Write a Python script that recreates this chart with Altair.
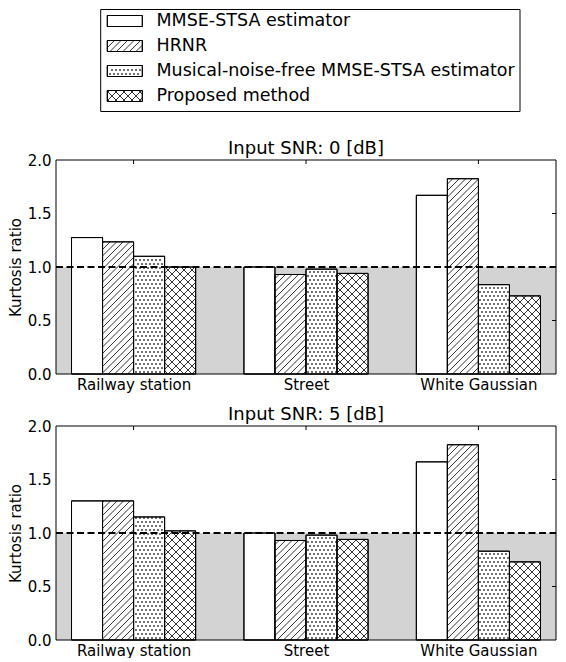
import numpy as np
import pandas as pd
import altair as alt

# ---------------- data ----------------
categories = ["Railway station", "Street", "White Gaussian"]
methods = ["MMSE-STSA estimator", "HRNR",
           "Musical-noise-free MMSE-STSA estimator", "Proposed method"]
hatch_kind = ["", "/", ".", "x"]

panel_titles = ["Input SNR: 0 [dB]", "Input SNR: 5 [dB]"]

snr0_mmse = [1.275, 1.00, 1.67]
snr0_hrnr = [1.235, 0.93, 1.825]
snr0_mnf = [1.10, 0.98, 0.835]
snr0_prop = [1.00, 0.94, 0.73]

snr5_mmse = [1.30, 1.00, 1.665]
snr5_hrnr = [1.30, 0.93, 1.825]
snr5_mnf = [1.15, 0.98, 0.83]
snr5_prop = [1.02, 0.94, 0.73]

y_ticks = [0.0, 0.5, 1.0, 1.5, 2.0]
reference_level = 1.0
y_title = "Kurtosis ratio"

panel_values = [
    [snr0_mmse, snr0_hrnr, snr0_mnf, snr0_prop],
    [snr5_mmse, snr5_hrnr, snr5_mnf, snr5_prop],
]

# ---------------- layout / style ----------------
FONT = "DejaVu Sans"
PW, PH = 500, 214
X_DOM = [-0.45, 2.45]
Y_DOM = [0.0, 2.0]
BAR_W = 0.18
SX = PW / (X_DOM[1] - X_DOM[0])
SY = PH / (Y_DOM[1] - Y_DOM[0])
HATCH_SP = {"/": 6.5, "x": 8.0, ".": 4.0}
TICK_LEN = 4.0

LW, LH = PW, 103


def hatch_segments(xl, xr, yb, yt, kind):
    segs = []
    if kind in ("/", "x"):
        s = HATCH_SP[kind]
        c = np.floor((xl - yt) / s) * s
        while c <= xr:
            a = max(xl, yb + c)
            b = min(xr, yt + c)
            if b > a:
                segs.append((a, a - c, b, b - c))
            c += s
    if kind == "x":
        s = HATCH_SP[kind]
        c = np.floor((xl + yb) / s) * s
        while c <= xr + yt:
            a = max(xl, c - yt)
            b = min(xr, c - yb)
            if b > a:
                segs.append((a, c - a, b, c - b))
            c += s
    return segs


def dot_points(xl, xr, yb, yt):
    s = HATCH_SP["."]
    pts = []
    j0 = int(np.floor(yb / s))
    j1 = int(np.ceil(yt / s))
    for j in range(j0, j1 + 1):
        y = j * s + s / 2
        if y <= yb + 1 or y >= yt - 1:
            continue
        off = 0.0 if j % 2 == 0 else s / 2
        k0 = int(np.floor(xl / s)) - 1
        k1 = int(np.ceil(xr / s)) + 1
        for k in range(k0, k1 + 1):
            x = k * s + off
            if xl + 1 < x < xr - 1:
                pts.append((x, y))
    return pts


def to_px_x(v):
    return (v - X_DOM[0]) * SX


def from_px_x(p):
    return p / SX + X_DOM[0]


xsc = alt.Scale(domain=X_DOM, nice=False, zero=False)
ysc = alt.Scale(domain=Y_DOM, nice=False, zero=False)
label_expr = "[" + ",".join("'" + c + "'" for c in categories) + "][datum.value]"

x_axis = alt.Axis(
    values=[0, 1, 2], labelExpr=label_expr, ticks=False, domain=False,
    grid=False, labelFontSize=15, labelFont=FONT, labelColor="black",
    labelPadding=3, title=None, labelFlush=False)
y_axis = alt.Axis(
    values=y_ticks, format=".1f", ticks=False, domain=False, grid=False,
    labelFontSize=15, labelFont=FONT, labelColor="black", labelPadding=5,
    title=y_title, titleFontSize=15, titleFont=FONT,
    titleFontWeight="normal", titleColor="black", titlePadding=4)


def X(field):
    return alt.X(field, scale=xsc, axis=x_axis)


def Y(field):
    return alt.Y(field, scale=ysc, axis=y_axis)


def make_panel(values, title):
    bars, segs, dots = [], [], []
    for m, series in enumerate(values):
        for ci, v in enumerate(series):
            x0 = ci + (m - 2) * BAR_W
            x1 = x0 + BAR_W
            bars.append({"method": methods[m], "cat": categories[ci],
                         "x0": x0, "x1": x1, "y0": 0.0, "value": v})
            xl, xr, yb, yt = to_px_x(x0), to_px_x(x1), 0.0, v * SY
            kind = hatch_kind[m]
            if kind in ("/", "x"):
                for (a, b, c, d) in hatch_segments(xl, xr, yb, yt, kind):
                    segs.append({"hx1": from_px_x(a), "hy1": b / SY,
                                 "hx2": from_px_x(c), "hy2": d / SY})
            elif kind == ".":
                for (a, b) in dot_points(xl, xr, yb, yt):
                    dots.append({"dx": from_px_x(a), "dy": b / SY})
    bars = pd.DataFrame(bars)
    segs = pd.DataFrame(segs)
    dots = pd.DataFrame(dots)

    gray = alt.Chart(pd.DataFrame({"a": [X_DOM[0]], "b": [X_DOM[1]],
                                   "c": [0.0], "d": [reference_level]})).mark_rect(
        fill="#d3d3d3", strokeWidth=0
    ).encode(x=X("a:Q"), x2="b:Q", y=Y("c:Q"), y2="d:Q")

    bar_layer = alt.Chart(bars).mark_rect(
        fill="white", stroke="black", strokeWidth=1
    ).encode(x=X("x0:Q"), x2="x1:Q", y=Y("y0:Q"), y2="value:Q")

    hatch_layer = alt.Chart(segs).mark_rule(color="black", strokeWidth=0.8).encode(
        x=X("hx1:Q"), x2="hx2:Q", y=Y("hy1:Q"), y2="hy2:Q")
    dot_layer = alt.Chart(dots).mark_square(color="black", size=2.2, opacity=1).encode(
        x=X("dx:Q"), y=Y("dy:Q"))
    outline = alt.Chart(bars).mark_rect(
        fillOpacity=0, stroke="black", strokeWidth=1
    ).encode(x=X("x0:Q"), x2="x1:Q", y=Y("y0:Q"), y2="value:Q")

    dashed = alt.Chart(pd.DataFrame({"a": [X_DOM[0]], "b": [X_DOM[1]],
                                     "c": [reference_level]})).mark_rule(
        color="black", strokeWidth=2, strokeDash=[7, 3.5]
    ).encode(x=X("a:Q"), x2="b:Q", y=Y("c:Q"))

    top_ticks = alt.Chart(pd.DataFrame({"t": [0, 1, 2]})).transform_calculate(
        y1=str(Y_DOM[1]), y2=str(Y_DOM[1] - TICK_LEN / SY)
    ).mark_rule(color="black", strokeWidth=1).encode(
        x=X("t:Q"), y=Y("y1:Q"), y2="y2:Q")
    right_ticks = alt.Chart(pd.DataFrame({"t": y_ticks[1:-1]})).transform_calculate(
        x1=str(X_DOM[1]), x2=str(X_DOM[1] - TICK_LEN / SX)
    ).mark_rule(color="black", strokeWidth=1).encode(
        x=X("x1:Q"), x2="x2:Q", y=Y("t:Q"))

    frame = alt.Chart(pd.DataFrame({"a": [X_DOM[0]], "b": [X_DOM[1]],
                                    "c": [Y_DOM[0]], "d": [Y_DOM[1]]})).mark_rect(
        fillOpacity=0, stroke="black", strokeWidth=1
    ).encode(x=X("a:Q"), x2="b:Q", y=Y("c:Q"), y2="d:Q")

    return alt.layer(
        gray, bar_layer, hatch_layer, dot_layer, outline, dashed,
        top_ticks, right_ticks, frame
    ).properties(
        width=PW, height=PH,
        title=alt.TitleParams(title, fontSize=18, font=FONT, fontWeight="normal",
                              color="black", anchor="middle", offset=-5),
    )


# ---------------- legend (drawn in pixel units, origin = plot left edge) ----------------
BOX_L, BOX_R = 44.7, 464.0
SW_L, SW_R, SW_H = 51.3, 86.3, 11.0
TXT_X = 100.5
LEG_FONT = 17.5
ROW0, ROW_PITCH = 12.0, 25.0   # distance from top of box

lx = alt.Scale(domain=[0, LW], nice=False, zero=False)
ly = alt.Scale(domain=[0, LH], nice=False, zero=False)


def LX(field):
    return alt.X(field, scale=lx, axis=None)


def LY(field):
    return alt.Y(field, scale=ly, axis=None)


sw_rows, lsegs, ldots, ltext = [], [], [], []
for m, name in enumerate(methods):
    cy = LH - (ROW0 + m * ROW_PITCH)
    yb, yt = cy - SW_H / 2, cy + SW_H / 2
    sw_rows.append({"x0": SW_L, "x1": SW_R, "y0": yb, "y1": yt})
    ltext.append({"x": TXT_X, "y": cy, "label": name})
    kind = hatch_kind[m]
    if kind in ("/", "x"):
        for (a, b, c, d) in hatch_segments(SW_L, SW_R, yb, yt, kind):
            lsegs.append({"hx1": a, "hy1": b, "hx2": c, "hy2": d})
    elif kind == ".":
        for (a, b) in dot_points(SW_L, SW_R, yb, yt):
            ldots.append({"dx": a, "dy": b})

box = alt.Chart(pd.DataFrame({"a": [BOX_L], "b": [BOX_R], "c": [0.5], "d": [LH - 0.5]})).mark_rect(
    fill="white", stroke="black", strokeWidth=1
).encode(x=LX("a:Q"), x2="b:Q", y=LY("c:Q"), y2="d:Q")
sw = alt.Chart(pd.DataFrame(sw_rows)).mark_rect(fill="white", stroke="black", strokeWidth=1).encode(
    x=LX("x0:Q"), x2="x1:Q", y=LY("y0:Q"), y2="y1:Q")
lh = alt.Chart(pd.DataFrame(lsegs)).mark_rule(color="black", strokeWidth=0.8).encode(
    x=LX("hx1:Q"), x2="hx2:Q", y=LY("hy1:Q"), y2="hy2:Q")
ld = alt.Chart(pd.DataFrame(ldots)).mark_square(color="black", size=2.2, opacity=1).encode(
    x=LX("dx:Q"), y=LY("dy:Q"))
sw2 = alt.Chart(pd.DataFrame(sw_rows)).mark_rect(fillOpacity=0, stroke="black", strokeWidth=1).encode(
    x=LX("x0:Q"), x2="x1:Q", y=LY("y0:Q"), y2="y1:Q")
lt = alt.Chart(pd.DataFrame(ltext)).mark_text(
    align="left", baseline="middle", fontSize=LEG_FONT, font=FONT, color="black"
).encode(x=LX("x:Q"), y=LY("y:Q"), text="label:N")

legend = alt.layer(box, sw, lh, ld, sw2, lt).properties(width=LW, height=LH)

p0 = make_panel(panel_values[0], panel_titles[0])
p1 = make_panel(panel_values[1], panel_titles[1])

chart = alt.vconcat(
    legend,
    alt.vconcat(p0, p1, spacing=14),
    spacing=28,
).properties(padding=0).configure(font=FONT).configure_view(strokeWidth=0, stroke="transparent")

chart.save("out.html", embed_options={"renderer": "svg", "actions": False})
